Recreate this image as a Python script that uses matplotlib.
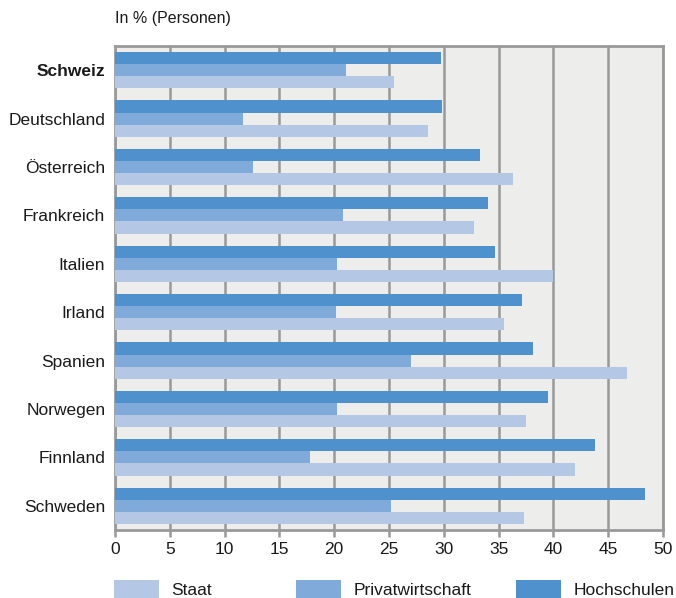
import matplotlib
matplotlib.use("Agg")
import matplotlib.pyplot as plt
from matplotlib.patches import Patch
import numpy as np

plt.rcParams['font.family'] = ['Liberation Sans Narrow', 'Liberation Sans', 'DejaVu Sans']

countries = ["Schweiz", "Deutschland", "Österreich", "Frankreich", "Italien",
             "Irland", "Spanien", "Norwegen", "Finnland", "Schweden"]
hochschulen = [29.7, 29.8, 33.3, 34.0, 34.7, 37.1, 38.1, 39.5, 43.8, 48.4]
privatwirtschaft = [21.1, 11.7, 12.6, 20.8, 20.3, 20.2, 27.0, 20.3, 17.8, 25.2]
staat = [25.5, 28.6, 36.3, 32.8, 40.0, 35.5, 46.7, 37.5, 42.0, 37.3]
xticks = list(range(0, 55, 5))

c_hoch = "#4f91cd"
c_priv = "#7faad9"
c_staat = "#b4c8e6"
frame = "#999999"

fig = plt.figure(figsize=(6.76, 5.98), dpi=100)
W, H = 676, 598
ax = fig.add_axes([115 / W, 1 - 530 / H, (663 - 115) / W, (530 - 46) / H])
ax.set_facecolor("#ededeb")

y = np.arange(len(countries))
h = 0.25
ax.barh(y - h, hochschulen, height=h, color=c_hoch, zorder=3)
ax.barh(y, privatwirtschaft, height=h, color=c_priv, zorder=3)
ax.barh(y + h, staat, height=h, color=c_staat, zorder=3)

ax.set_xlim(0, 50)
ax.set_ylim(len(countries) - 0.5, -0.5)
ax.set_xticks(xticks)
ax.set_xticklabels([str(v) for v in xticks], fontsize=12.5, color="#1a1a1a")
ax.tick_params(axis="x", length=5, width=1.8, color=frame, pad=4)
ax.set_yticks(y)
ax.set_yticklabels(countries, fontsize=12.5, color="#1a1a1a")
ax.get_yticklabels()[0].set_fontweight("bold")
ax.tick_params(axis="y", length=0, pad=7)

ax.grid(axis="x", color=frame, linewidth=1.8, zorder=1)
ax.set_axisbelow(True)
for s in ax.spines.values():
    s.set_color(frame)
    s.set_linewidth(2)

fig.text(115 / W, 1 - 19 / H, "In % (Personen)", fontsize=11.5, color="#1a1a1a",
         ha="left", va="center")

# Legend entries placed separately along the bottom
entries = [("Staat", c_staat, 114), ("Privatwirtschaft", c_priv, 296),
           ("Hochschulen", c_hoch, 516)]
for label, col, xpx in entries:
    leg = fig.legend(handles=[Patch(facecolor=col, edgecolor="none", label=label)],
                     loc="center left", bbox_to_anchor=(xpx / W, 1 - 589 / H),
                     frameon=False, fontsize=12.5, handlelength=2.6,
                     handleheight=1.2, handletextpad=0.7, borderpad=0,
                     borderaxespad=0)
    for t in leg.get_texts():
        t.set_color("#1a1a1a")

fig.savefig("out.png", dpi=100)
